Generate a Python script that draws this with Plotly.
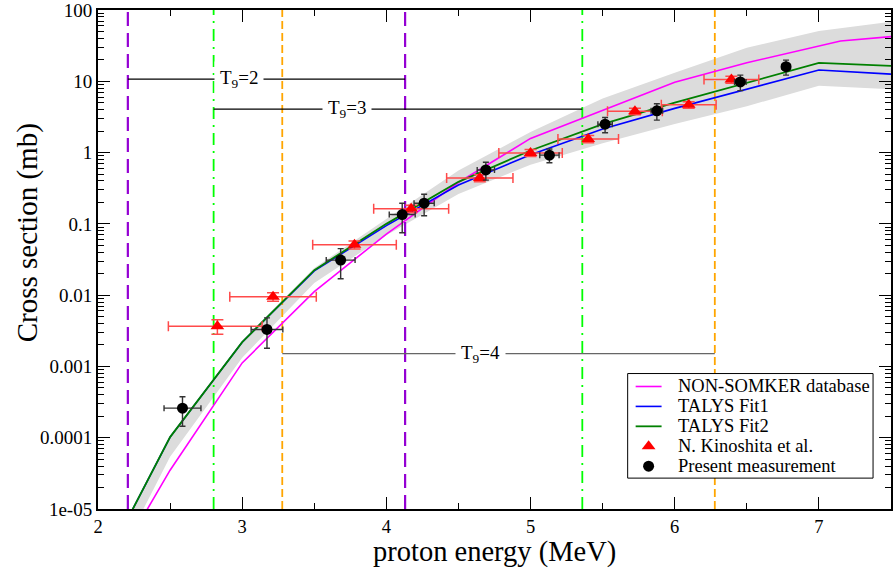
import math
import plotly.graph_objects as go

# ---- model curves (cross section in mb vs proton energy in MeV) ----
talys_e = [2.2, 2.5, 3.0, 3.5, 4.0, 4.5, 5.0, 5.5, 6.0, 6.5, 7.0, 7.5]
talys_fit1 = [6.9e-6, 1.02e-4, 2.19e-3, 2.19e-2, 0.0944, 0.351, 0.933, 2.14, 4.17, 7.76, 14.4, 12.6]
talys_fit2 = [6.9e-6, 1.02e-4, 2.19e-3, 2.24e-2, 0.100, 0.389, 1.07, 2.51, 5.01, 9.55, 18.1, 16.4]
band_upper = [6.9e-6, 1.02e-4, 2.29e-3, 2.40e-2, 0.117, 0.562, 1.95, 5.75, 13.2, 29.5, 50.8, 68.5]
band_lower = [3.5e-6, 5.4e-5, 1.32e-3, 1.48e-2, 0.069, 0.263, 0.676, 1.35, 2.51, 4.47, 8.63, 7.76]

nonsmoker_e = [2.2, 2.5, 3.0, 3.5, 4.0, 4.5, 5.0, 5.5, 6.0, 6.5, 7.0, 7.15, 7.5]
nonsmoker_xs = [3.2e-6, 3.5e-5, 1.12e-3, 1.12e-2, 0.072, 0.38, 1.58, 3.89, 9.7, 18.2, 31.6, 36.8, 42.3]

# ---- N. Kinoshita et al. ----
kin_e = [2.828, 3.214, 3.779, 4.172, 4.648, 5.0, 5.4, 5.724, 6.097, 6.393]
kin_e_minus = [0.34, 0.30, 0.29, 0.26, 0.23, 0.22, 0.21, 0.19, 0.19, 0.19]
kin_e_plus = [0.31, 0.30, 0.29, 0.26, 0.23, 0.22, 0.21, 0.19, 0.19, 0.19]
kin_xs = [3.67e-3, 9.5e-3, 0.051, 0.163, 0.44, 0.99, 1.55, 3.8, 4.68, 10.6]
kin_xs_err = [0.85e-3, 1.3e-3, 0.0066, 0.02, 0.05, 0.11, 0.18, 0.4, 0.5, 1.2]

# ---- present measurement ----
pm_e = [2.586, 3.172, 3.683, 4.11, 4.262, 4.69, 5.131, 5.517, 5.876, 6.455, 6.772]
pm_e_err = [0.128, 0.11, 0.10, 0.09, 0.07, 0.06, 0.067, 0.05, 0.04, 0.04, 0.03]
pm_xs = [2.6e-4, 3.3e-3, 0.031, 0.135, 0.195, 0.57, 0.92, 2.5, 3.85, 9.8, 16.0]
pm_xs_err = [1.15e-4, 1.5e-3, 0.014, 0.06, 0.065, 0.16, 0.2, 0.6, 1.0, 2.4, 3.8]

# ---- Gamow windows ----
gamow_T9 = [2, 3, 4]
gamow_lo = [2.207, 2.802, 3.278]
gamow_hi = [4.13, 5.359, 6.278]

# axis ticks
y_tickvals = [1e-5, 1e-4, 1e-3, 1e-2, 0.1, 1, 10, 100]
y_ticktext = ["1e-05", "0.0001", "0.001", "0.01", "0.1", "1", "10", "100"]
x_tickvals = [2, 3, 4, 5, 6, 7]
x_ticktext = ["2", "3", "4", "5", "6", "7"]

legend_labels = ["NON-SOMKER database", "TALYS Fit1", "TALYS Fit2",
                 "N. Kinoshita et al.", "Present measurement"]

SERIF = "Liberation Serif, Times New Roman, serif"
Y_MIN, Y_MAX = 1e-5, 100
W, H = 893, 569
L, R, T, B = 98, 0, 8, 60
PW, PH = W - L - R, H - T - B


def px_x(px):
    return (px - L) / PW


def px_y(py):
    return (H - B - py) / PH


C_NS, C_F1, C_F2, C_KIN, C_PM = "#ff00ff", "#0000ff", "#008000", "#ff0000", "#000000"

fig = go.Figure()

# uncertainty band
fig.add_trace(go.Scatter(
    x=talys_e + talys_e[::-1],
    y=band_upper + band_lower[::-1],
    fill="toself", fillcolor="#dcdcdc", line=dict(width=0),
    mode="lines", hoverinfo="skip", showlegend=False))

# Gamow window edges
win_styles = [
    dict(color="#9400d3", width=2.2, dash="14px,7px"),
    dict(color="#00ff00", width=1.8, dash="12px,6px,2px,6px"),
    dict(color="#ffa500", width=1.8, dash="8px,4px"),
]
for lo, hi, st in zip(gamow_lo, gamow_hi, win_styles):
    for xv in (lo, hi):
        fig.add_trace(go.Scatter(x=[xv, xv], y=[Y_MIN, Y_MAX], mode="lines",
                                 line=st, hoverinfo="skip", showlegend=False))

# window width bars with the temperature label
bar_levels = [10.7, 4.07, 1.51e-3]
bar_colors = ["#000000", "#000000", "#666666"]
label_x = [2.98, 3.73, 4.65]
for t9, lo, hi, lev, col, lx in zip(gamow_T9, gamow_lo, gamow_hi, bar_levels, bar_colors, label_x):
    fig.add_trace(go.Scatter(x=[lo, hi], y=[lev, lev], mode="lines",
                             line=dict(color=col, width=1.3),
                             hoverinfo="skip", showlegend=False))
    fig.add_annotation(x=lx, y=math.log10(lev), xref="x", yref="y",
                       text=f"T<sub>9</sub>={t9}", showarrow=False,
                       font=dict(family=SERIF, size=19, color="black"),
                       bgcolor="white", borderpad=5)

fig.add_trace(go.Scatter(x=nonsmoker_e, y=nonsmoker_xs, mode="lines",
                         line=dict(color=C_NS, width=1.6), showlegend=False))
fig.add_trace(go.Scatter(x=talys_e, y=talys_fit1, mode="lines",
                         line=dict(color=C_F1, width=1.6), showlegend=False))
fig.add_trace(go.Scatter(x=talys_e, y=talys_fit2, mode="lines",
                         line=dict(color=C_F2, width=1.8), showlegend=False))

fig.add_trace(go.Scatter(
    x=kin_e, y=kin_xs, mode="markers", showlegend=False,
    marker=dict(symbol="triangle-up", size=12, color=C_KIN),
    error_x=dict(type="data", symmetric=False, array=kin_e_plus, arrayminus=kin_e_minus,
                 color="#ff4a4a", thickness=1.5, width=5),
    error_y=dict(type="data", array=kin_xs_err, color="#ff4a4a", thickness=1.5, width=6)))

fig.add_trace(go.Scatter(
    x=pm_e, y=pm_xs, mode="markers", showlegend=False,
    marker=dict(symbol="circle", size=11, color=C_PM),
    error_x=dict(type="data", array=pm_e_err, color="#333333", thickness=1.4, width=3),
    error_y=dict(type="data", array=pm_xs_err, color="#333333", thickness=1.4, width=3)))

# ---- legend panel, drawn on a pixel-scaled overlay axis pair ----
box_x0, box_x1, box_y0, box_y1 = 629, 875, 373, 478
row_y = [386, 406, 426, 446, 466]
sw_x0, sw_x1, txt_x = 637, 663, 677

fig.add_trace(go.Scatter(
    x=[box_x0, box_x1, box_x1, box_x0, box_x0], y=[box_y0, box_y0, box_y1, box_y1, box_y0],
    xaxis="x2", yaxis="y2", mode="lines", fill="toself", fillcolor="white",
    line=dict(color="black", width=1), hoverinfo="skip", showlegend=False))
for ry, col, wd in zip(row_y[:3], [C_NS, C_F1, C_F2], [1.6, 1.6, 1.8]):
    fig.add_trace(go.Scatter(x=[sw_x0, sw_x1], y=[ry, ry], xaxis="x2", yaxis="y2",
                             mode="lines", line=dict(color=col, width=wd),
                             hoverinfo="skip", showlegend=False))
mid = (sw_x0 + sw_x1) / 2
fig.add_trace(go.Scatter(x=[mid], y=[row_y[3]], xaxis="x2", yaxis="y2", mode="markers",
                         marker=dict(symbol="triangle-up", size=12, color=C_KIN),
                         hoverinfo="skip", showlegend=False))
fig.add_trace(go.Scatter(x=[mid], y=[row_y[4]], xaxis="x2", yaxis="y2", mode="markers",
                         marker=dict(symbol="circle", size=11, color=C_PM),
                         hoverinfo="skip", showlegend=False))
for ry, lab in zip(row_y, legend_labels):
    fig.add_annotation(x=px_x(txt_x), y=px_y(ry), xref="paper", yref="paper", text=lab,
                       showarrow=False, xanchor="left", yanchor="middle",
                       font=dict(family=SERIF, size=18.5, color="black"))

# axis titles
fig.add_annotation(x=px_x(496), y=px_y(552), xref="paper", yref="paper",
                   text="proton energy (MeV)", showarrow=False,
                   xanchor="center", yanchor="middle",
                   font=dict(family=SERIF, size=28.5, color="black"))
fig.add_annotation(x=px_x(27), y=px_y(232), xref="paper", yref="paper",
                   text="Cross section (mb)", textangle=-90,
                   showarrow=False, xanchor="center", yanchor="middle",
                   font=dict(family=SERIF, size=29, color="black"))

y_minor = [m * 10 ** k for k in range(-5, 2) for m in range(2, 10)]

fig.update_layout(
    xaxis=dict(range=[2, 7.5], tickmode="array", tickvals=x_tickvals, ticktext=x_ticktext,
               ticks="inside", ticklen=12, tickwidth=1.3, tickcolor="black",
               minor=dict(tickmode="array", tickvals=[2.5, 3.5, 4.5, 5.5, 6.5, 7.5],
                          ticks="inside", ticklen=6, tickwidth=1.2, tickcolor="black",
                          showgrid=False),
               showline=True, linecolor="black", linewidth=2, mirror="ticks",
               showgrid=False, zeroline=False, ticklabeloverflow="allow",
               tickfont=dict(family=SERIF, size=18.5, color="black")),
    yaxis=dict(type="log", range=[-5, 2], tickmode="array", tickvals=y_tickvals,
               ticktext=y_ticktext,
               ticks="inside", ticklen=12, tickwidth=1.3, tickcolor="black",
               minor=dict(tickmode="array", tickvals=y_minor,
                          ticks="inside", ticklen=6, tickwidth=1.2, tickcolor="black",
                          showgrid=False),
               showline=True, linecolor="black", linewidth=2, mirror="ticks",
               showgrid=False, zeroline=False, ticklabeloverflow="allow",
               tickfont=dict(family=SERIF, size=19, color="black")),
    xaxis2=dict(overlaying="x", range=[L, W - R], visible=False, fixedrange=True),
    yaxis2=dict(overlaying="y", range=[H - B, T], visible=False, fixedrange=True),
    width=W, height=H,
    margin=dict(l=L, r=R, t=T, b=B),
    plot_bgcolor="white", paper_bgcolor="white",
    showlegend=False,
)

fig.write_html("out.html")
